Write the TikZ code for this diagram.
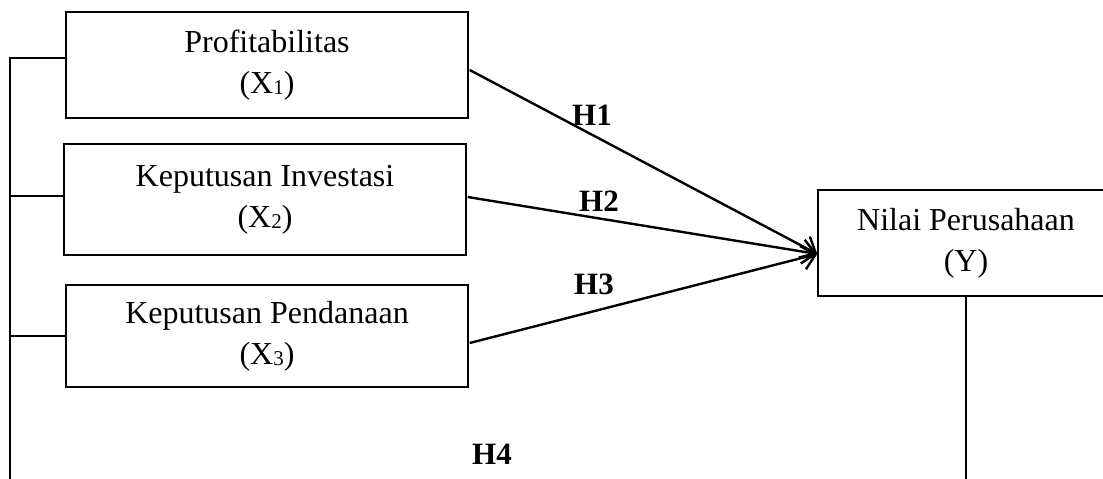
\documentclass[tikz,border=0pt]{standalone}
\usepackage{fontspec}
\setmainfont{Liberation Serif}
\usetikzlibrary{arrows.meta,calc}
\newcommand{\lowsub}[1]{\raisebox{-1.5pt}{\fontsize{21}{21}\selectfont #1}}
\begin{document}
\begin{tikzpicture}[x=1pt,y=-1pt,
  box/.style={draw, line width=1.4pt, inner sep=0pt, align=center,
    font=\fontsize{32}{41}\selectfont},
  link/.style={line width=2pt},
  arr/.style={line width=2.4pt, -{Straight Barb[length=13pt,width=24pt,line width=2.4pt]}},
  hlab/.style={font=\fontsize{31}{36}\selectfont\bfseries, inner sep=0pt}]
\useasboundingbox (0,0) rectangle (1103,479);
\node[box, minimum width=402pt, minimum height=106pt] (b1) at (267,65) {Profitabilitas\\(X\lowsub{1})};
\node[box, minimum width=402pt, minimum height=111pt] (b2) at (265,199.5) {Keputusan Investasi\\(X\lowsub{2})};
\node[box, minimum width=402pt, minimum height=102pt] (b3) at (267,336) {Keputusan Pendanaan\\(X\lowsub{3})};
\node[box, minimum width=296pt, minimum height=106pt] (y) at (966,243) {Nilai Perusahaan\\(Y)};
\coordinate (tip) at ($(y.west)+(0,11)$);
\coordinate (lb) at (10,480);
\coordinate (rb) at (966,480);
\draw[arr] ($(b1.east)+(1,5)$) -- (tip);
\draw[arr] ($(b2.east)+(1,-2.5)$) -- (tip);
\draw[arr] ($(b3.east)+(1,7)$) -- (tip);
\draw[link] (lb) |- ($(b1.west)+(0,-7)$);
\draw[link] (lb |- b2.west) ++(0,-3.5) -- ($(b2.west)+(0,-3.5)$);
\draw[link] (lb |- b3.west) -- (b3.west);
\draw[link] (y.south) -- (rb);
\node[hlab] (h1) at (592,115) {H1};
\node[hlab] (h2) at (599,201) {H2};
\node[hlab] (h3) at (594,284) {H3};
\node[hlab] (h4) at (492,454) {H4};
\end{tikzpicture}
\end{document}
